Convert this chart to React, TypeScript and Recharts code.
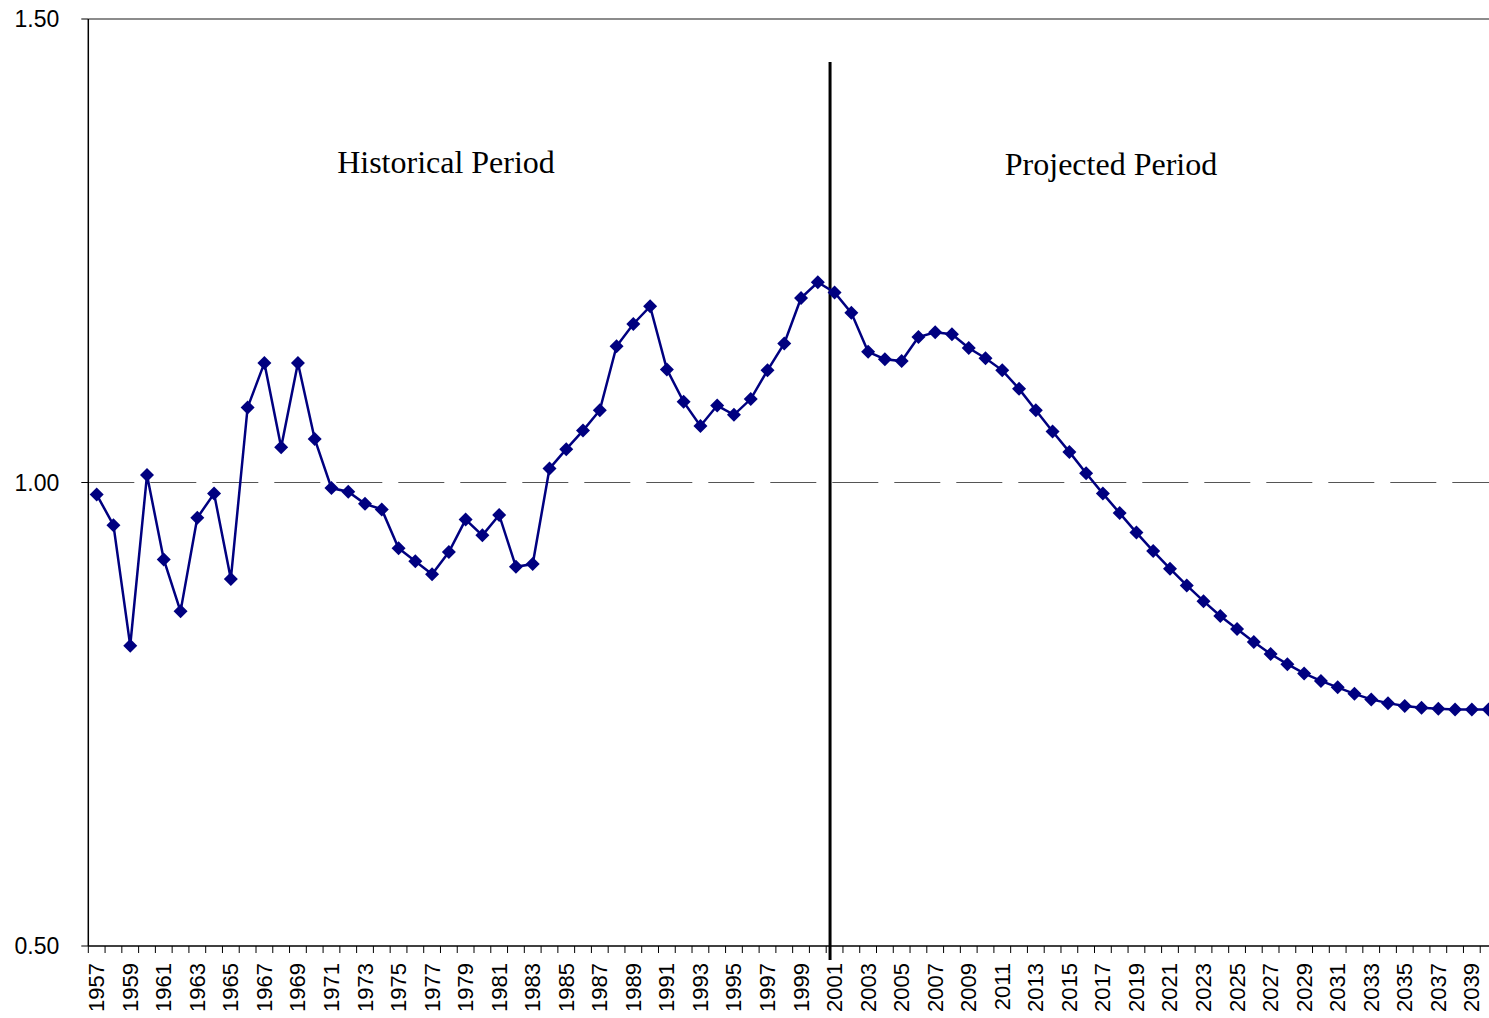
import { LineChart, Line, XAxis, YAxis, ReferenceLine } from 'recharts';

// years on the x axis, 1957 through 2040
const years: number[] = Array.from({ length: 84 }, (_, i) => 1957 + i);

// values
const historicalValues = [
  0.987, 0.954, 0.824, 1.008, 0.917, 0.861, 0.962, 0.988, 0.896, 1.081,
  1.129, 1.038, 1.129, 1.047, 0.994, 0.990, 0.977, 0.971, 0.929, 0.915,
  0.901, 0.925, 0.960, 0.943, 0.965, 0.909, 0.912, 1.015, 1.036, 1.056,
  1.078, 1.147, 1.171, 1.190, 1.122, 1.087, 1.061, 1.083, 1.073, 1.090,
  1.121, 1.150, 1.199, 1.216,
]; // 1957-2000

const projectedValues = [
  1.205, 1.183, 1.141, 1.133, 1.131, 1.157, 1.162, 1.160, 1.145, 1.134,
  1.121, 1.101, 1.078, 1.055, 1.033, 1.010, 0.988, 0.967, 0.946, 0.926,
  0.907, 0.889, 0.872, 0.856, 0.842, 0.828, 0.815, 0.804, 0.794, 0.786,
  0.779, 0.772, 0.766, 0.762, 0.759, 0.757, 0.756, 0.755, 0.755, 0.755,
]; // 2001-2040

const yTicks = [0.5, 1.0, 1.5];
const labelYears = years.filter((y) => y % 2 === 1);
const boundaries = [...years.map((y) => y - 0.5), 2040.5];
const xTicks = [...boundaries, ...labelYears].sort((a, b) => a - b);

const dividerYear = 2000.73;

const values = [...historicalValues, ...projectedValues];
const data = years.map((year, i) => ({ year, value: values[i] }));

const sans = "Arial, 'Liberation Sans', sans-serif";
const serif = "'Times New Roman', 'Liberation Serif', serif";

function YearTick({ x, y, payload }: any) {
  const v = payload.value as number;
  if (!Number.isInteger(v)) {
    return <line x1={x} x2={x} y1={y} y2={y + 7} stroke="#000" strokeWidth={1} />;
  }
  return (
    <text
      transform={`translate(${x + 7.5},${y + 17}) rotate(-90)`}
      textAnchor="end"
      fontSize={22}
      fontFamily={sans}
      fill="#000"
    >
      {v}
    </text>
  );
}

function Diamond({ cx, cy }: any) {
  if (cx == null || cy == null) return null;
  const r = 7;
  return (
    <polygon
      points={`${cx},${cy - r} ${cx + r},${cy} ${cx},${cy + r} ${cx - r},${cy}`}
      fill="#000080"
    />
  );
}

const noteStyle = {
  position: 'absolute' as const,
  transform: 'translateX(-50%)',
  fontFamily: serif,
  fontSize: 32,
  lineHeight: '32px',
  whiteSpace: 'nowrap' as const,
  color: '#000',
};

export default function App() {
  return (
    <div
      style={{
        position: 'absolute',
        left: 0,
        top: 0,
        width: 1489,
        height: 1018,
        overflow: 'hidden',
        background: '#fff',
      }}
    >
      <LineChart
        width={1510}
        height={1018}
        data={data}
        margin={{ top: 19, right: 13, left: 0, bottom: 0 }}
      >
        <XAxis
          dataKey="year"
          type="number"
          domain={[1956.5, 2040.5]}
          ticks={xTicks}
          interval={0}
          tick={<YearTick />}
          tickLine={false}
          tickSize={0}
          tickMargin={0}
          axisLine={{ stroke: '#000', strokeWidth: 1.5 }}
          height={72}
          allowDataOverflow
        />
        <YAxis
          type="number"
          domain={[0.5, 1.5]}
          ticks={yTicks}
          tickFormatter={(v: number) => v.toFixed(2)}
          width={88.3}
          tickSize={7}
          tickMargin={22}
          tickLine={{ stroke: '#000' }}
          axisLine={{ stroke: '#000', strokeWidth: 1.5 }}
          tick={{ fontSize: 23, fontFamily: sans, fill: '#000' }}
        />
        <ReferenceLine y={1.5} stroke="#8c8c8c" strokeWidth={2} />
        <ReferenceLine y={1.0} stroke="#555" strokeWidth={1.2} strokeDasharray="46 16" />
        <ReferenceLine
          segment={[
            { x: dividerYear, y: 1.4536 },
            { x: dividerYear, y: 0.4849 },
          ]}
          stroke="#000"
          strokeWidth={3}
          ifOverflow="visible"
        />
        <Line
          type="linear"
          dataKey="value"
          stroke="#000080"
          strokeWidth={2.5}
          dot={<Diamond />}
          activeDot={false}
          isAnimationActive={false}
        />
      </LineChart>
      <div style={{ ...noteStyle, left: 446, top: 146 }}>Historical Period</div>
      <div style={{ ...noteStyle, left: 1111, top: 148 }}>Projected Period</div>
    </div>
  );
}
